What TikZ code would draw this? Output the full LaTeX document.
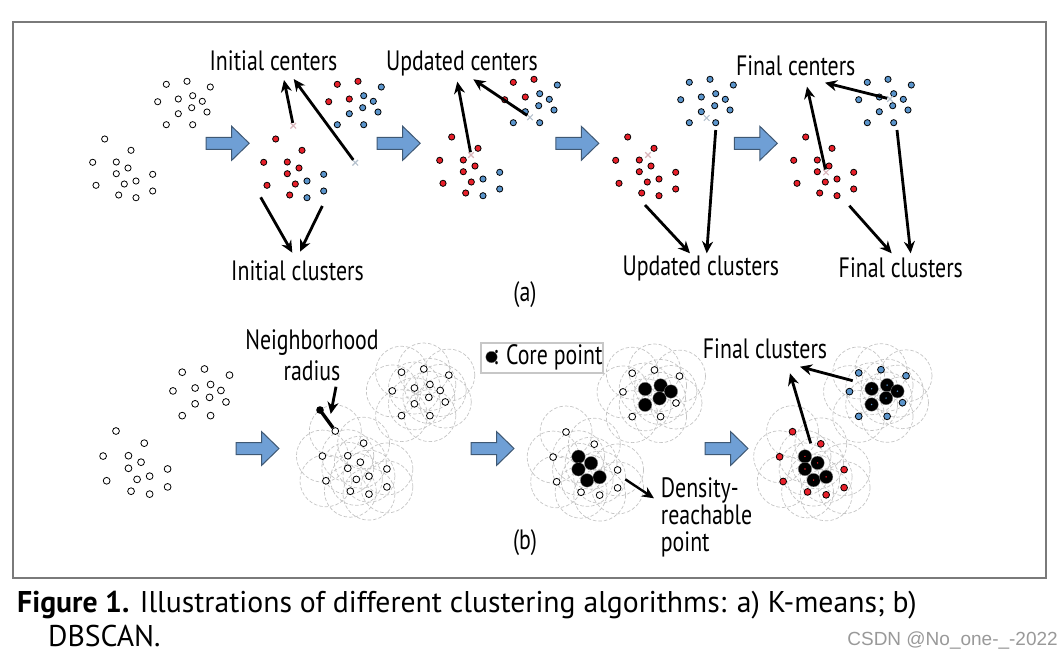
\documentclass[tikz,border=0pt]{standalone}
\usepackage{fontspec}
\setmainfont{PT Sans}
\newfontfamily\lblfont[FakeStretch=0.78]{PT Sans}
\newfontfamily\capfont[FakeStretch=0.99]{PT Sans}
\newfontfamily\wmfont{Liberation Sans}
\usetikzlibrary{arrows.meta,positioning,shapes.misc}

\definecolor{ptred}{HTML}{E8202A}
\definecolor{ptblue}{HTML}{5B95CC}
\definecolor{blockfill}{HTML}{6F9FD5}
\definecolor{blockline}{HTML}{3F5873}
\definecolor{framegray}{HTML}{7A7A7A}
\definecolor{circgray}{HTML}{C4C4C4}
\definecolor{ctrred}{HTML}{D8B4BA}
\definecolor{ctrblue}{HTML}{B4C0CC}

% one data set, measured from the first lower point
\def\upA{61.6/-54.7,82.3/-57.7,53/-37.3,73.6/-40}
\def\upB{105.6/-52,88/-43.3,97.6/-37.7,87/-31.3,102.3/-27,73.6/-25.3,61.6/-14.3,88/-14.3}
\def\loA{0/0,26.3/11.3,-12/23.3,11.6/23,23.3/29,11.6/34.7,-8.7/46.3,19.6/45,14/56}
\def\loB{48/35.3,31.3/42,48/52,31.3/58.7}
\def\upCore{73.6/-40,88/-43.3,97.6/-37.7,87/-31.3,73.6/-25.3}
\def\upRim{61.6/-54.7,82.3/-57.7,105.6/-52,53/-37.3,102.3/-27,61.6/-14.3,88/-14.3}
\def\loCore{11.6/23,23.3/29,11.6/34.7,19.6/45,31.3/42}
\def\loRim{0/0,26.3/11.3,-12/23.3,48/35.3,-8.7/46.3,48/52,14/56,31.3/58.7}
\def\allPts{61.6/-54.7,82.3/-57.7,105.6/-52,53/-37.3,73.6/-40,88/-43.3,97.6/-37.7,87/-31.3,102.3/-27,73.6/-25.3,61.6/-14.3,88/-14.3,0/0,26.3/11.3,-12/23.3,11.6/23,23.3/29,11.6/34.7,48/35.3,-8.7/46.3,19.6/45,31.3/42,48/52,14/56,31.3/58.7}

\tikzset{
  pt/.style={circle,draw=black,line width=0.8pt,inner sep=0pt,minimum size=6.2pt},
  openpt/.style={pt,fill=white},
  redpt/.style={pt,fill=ptred},
  bluept/.style={pt,fill=ptblue},
  core/.style={circle,fill=black,draw=white!55!black,line width=0.3pt,inner sep=0pt,minimum size=13.5pt},
  coredot/.style={circle,fill=#1,inner sep=0pt,minimum size=1.6pt},
  nbhd/.style={circle,draw=circgray,dash pattern=on 3.5pt off 2pt,line width=0.7pt,inner sep=0pt,minimum size=52pt},
  ctr/.style={cross out,draw=#1,line width=1.1pt,inner sep=0pt,minimum size=4.5pt},
  arr/.style={line width=2.8pt,-{Stealth[length=12pt,width=11pt]}},
  lbl/.style={font=\lblfont\fontsize{28}{27}\selectfont,inner sep=0pt,anchor=base},
  capt/.style={font=\capfont\fontsize{30}{34}\selectfont,inner sep=0pt,anchor=base west},
  blockarrow/.pic={\draw[fill=blockfill,draw=blockline,line width=1pt]
    (-21.5,-6) -- (4,-6) -- (4,-17) -- (21.5,0) -- (4,17) -- (4,6) -- (-21.5,6) -- cycle;}
}

\begin{document}
\begin{tikzpicture}[x=1pt,y=-1pt]
\useasboundingbox (0,0) rectangle (1064,657);
\draw[framegray,line width=1.6pt] (12.7,22) rectangle (1046,577.7);

% (a) k-means
\begin{scope}[shift={(104.7,139)}]
\foreach \x/\y [count=\i] in \upA {\node[openpt] (a1ua\i) at (\x,\y) {};}
\foreach \x/\y [count=\i] in \upB {\node[openpt] (a1ub\i) at (\x,\y) {};}
\foreach \x/\y [count=\i] in \loA {\node[openpt] (a1la\i) at (\x,\y) {};}
\foreach \x/\y [count=\i] in \loB {\node[openpt] (a1lb\i) at (\x,\y) {};}
\end{scope}
\foreach \s/\sx/\sy in {2/275.7/139,3/451.7/137}{
\begin{scope}[shift={(\sx,\sy)}]
\foreach \x/\y [count=\i] in \upA {\node[redpt] (a\s ua\i) at (\x,\y) {};}
\foreach \x/\y [count=\i] in \upB {\node[bluept] (a\s ub\i) at (\x,\y) {};}
\foreach \x/\y [count=\i] in \loA {\node[redpt] (a\s la\i) at (\x,\y) {};}
\foreach \x/\y [count=\i] in \loB {\node[bluept] (a\s lb\i) at (\x,\y) {};}
\end{scope}}
\foreach \s/\sx/\sy in {4/627.7/137,5/805.7/137}{
\begin{scope}[shift={(\sx,\sy)}]
\foreach \x/\y [count=\i] in \upA {\node[bluept] (a\s ua\i) at (\x,\y) {};}
\foreach \x/\y [count=\i] in \upB {\node[bluept] (a\s ub\i) at (\x,\y) {};}
\foreach \x/\y [count=\i] in \loA {\node[redpt] (a\s la\i) at (\x,\y) {};}
\foreach \x/\y [count=\i] in \loB {\node[redpt] (a\s lb\i) at (\x,\y) {};}
\end{scope}}

\node[ctr=ctrred] (c2r) at (293.3,125.7) {};
\node[ctr=ctrblue] (c2b) at (355.3,162.7) {};
\node[ctr=ctrred] (c3r) at (471,155) {};
\node[ctr=ctrblue] (c3b) at (530,117.3) {};
\node[ctr=ctrred] (c4r) at (648,155) {};
\node[ctr=ctrblue] (c4b) at (706.7,118) {};
\node[ctr=ctrred] (c5r) at (826,172.3) {};
\node[ctr=ctrblue] (c5b) at (890,99) {};

\foreach \ax in {227.7,398.7,577.3,755.8} \pic at (\ax,143.3) {blockarrow};

\node[lbl] (inicen) at (273.5,70) {Initial centers};
\node[lbl] (inicl) at (297.5,280.5) {Initial clusters};
\node[lbl] (updcen) at (462,70.5) {Updated centers};
\node[lbl] (updcl) at (700.8,275.5) {Updated clusters};
\node[lbl] (fincen) at (795.7,75.5) {Final centers};
\node[lbl] (fincl) at (900.8,277.5) {Final clusters};
\node[lbl] (taga) at (525,301) {(a)};

\coordinate (ic1) at (284,80);
\coordinate (ic2) at (293.7,79);
\coordinate (il0) at (260.7,197.3);
\coordinate (il1) at (292.3,252.7);
\coordinate (il2) at (322.3,206);
\coordinate (il3) at (300,251.7);
\coordinate (uc1) at (457.3,81.7);
\coordinate (uc2) at (473.3,79.3);
\coordinate (ul0) at (645,205);
\coordinate (ul1) at (690,253.3);
\coordinate (ul2) at (715.7,130);
\coordinate (ul3) at (706.7,253.3);
\coordinate (fc1) at (807,86.7);
\coordinate (fc2) at (825,82.7);
\coordinate (fl0) at (849.3,205.7);
\coordinate (fl1) at (891.7,253.3);
\coordinate (fl2) at (897,130);
\coordinate (fl3) at (910.7,253.3);

\draw[arr] (c2r) -- (ic1);
\draw[arr] (c2b) -- (ic2);
\draw[arr] (il0) -- (il1);
\draw[arr] (il2) -- (il3);
\draw[arr] (c3r) -- (uc1);
\draw[arr] (c3b) -- (uc2);
\draw[arr] (ul0) -- (ul1);
\draw[arr] (ul2) -- (ul3);
\draw[arr] (c5r) -- (fc1);
\draw[arr] (c5b) -- (fc2);
\draw[arr] (fl0) -- (fl1);
\draw[arr] (fl2) -- (fl3);

% (b) dbscan
\begin{scope}[shift={(116,431)},scale=1.075]
\foreach \x/\y [count=\i] in \allPts {\node[openpt,minimum size=6.8pt] (b1p\i) at (\x,\y) {};}
\end{scope}
\begin{scope}[shift={(335.3,431)},scale=1.075]
\foreach \x/\y [count=\i] in \allPts {\node[nbhd] (b2n\i) at (\x,\y) {};}
\foreach \x/\y [count=\i] in \allPts {\node[openpt,minimum size=6.8pt] (b2p\i) at (\x,\y) {};}
\end{scope}
\begin{scope}[shift={(566,432)},scale=1.075]
\foreach \x/\y [count=\i] in \allPts {\node[nbhd] (b3n\i) at (\x,\y) {};}
\foreach \x/\y [count=\i] in \upRim {\node[openpt,minimum size=6.8pt] (b3ur\i) at (\x,\y) {};}
\foreach \x/\y [count=\i] in \loRim {\node[openpt,minimum size=6.8pt] (b3lr\i) at (\x,\y) {};}
\foreach \x/\y [count=\i] in \upCore {\node[core] (b3uc\i) at (\x,\y) {};}
\foreach \x/\y [count=\i] in \loCore {\node[core] (b3lc\i) at (\x,\y) {};}
\end{scope}
\begin{scope}[shift={(792.5,431.7)},scale=1.075]
\foreach \x/\y [count=\i] in \allPts {\node[nbhd] (b4n\i) at (\x,\y) {};}
\foreach \x/\y [count=\i] in \upRim {\node[bluept,minimum size=6.8pt] (b4ur\i) at (\x,\y) {};}
\foreach \x/\y [count=\i] in \loRim {\node[redpt,minimum size=6.8pt] (b4lr\i) at (\x,\y) {};}
\foreach \x/\y [count=\i] in \upCore {\node[core] (b4uc\i) at (\x,\y) {};
  \node[coredot=ptblue] at (b4uc\i) {};}
\foreach \x/\y [count=\i] in \loCore {\node[core] (b4lc\i) at (\x,\y) {};
  \node[coredot=ptred] at (b4lc\i) {};}
\end{scope}

\foreach \ax in {257.5,492.5,726.5} \pic at (\ax,448.5) {blockarrow};

\node[draw=white!78!black,line width=1.8pt,minimum width=122pt,minimum height=30pt,inner sep=0pt] (key) at (541.7,357.7) {};
\node[core,minimum size=11.5pt] (keydot) at (491.5,357) {};
\node[lbl] (keytxt) at (548,364.5) {: Core point};

\node[lbl,align=center,anchor=north,font=\lblfont\fontsize{28}{31}\selectfont] (nbr) at (312,329) {Neighborhood\\radius};
\node[lbl,align=left,anchor=north west] (dens) at (660.7,477.5) {Density-\\reachable\\point};
\node[lbl] (fincl2) at (765,358) {Final clusters};
\node[lbl] (tagb) at (525,549) {(b)};

\coordinate (rb) at (320,410);
\draw[line width=3.4pt] (rb) -- (b2p13);
\fill (rb) circle (3.8);
\coordinate (nb0) at (336,386.7);
\coordinate (nb1) at (330.7,414);
\coordinate (dr0) at (625.3,479.3);
\coordinate (dr1) at (654,498.3);
\coordinate (bf0) at (810.7,443.3);
\coordinate (bf1) at (790,373.3);
\coordinate (bf2) at (852.7,380.7);
\coordinate (bf3) at (800,366.7);
\draw[arr] (nb0) -- (nb1);
\draw[arr,line width=2.4pt] (dr0) -- (dr1);
\draw[arr] (bf0) -- (bf1);
\draw[arr] (bf2) -- (bf3);

% caption
\node[capt] (cap1) at (17,612) {\textbf{Figure 1.} Illustrations of different clustering algorithms: a) K-means; b)};
\node[capt] (cap2) at (48,646) {DBSCAN.};
\node[font=\wmfont\fontsize{19}{20}\selectfont,text=black!40,inner sep=0pt,anchor=base east] (wm) at (1058,645) {CSDN @No\_one-\_-2022};
\end{tikzpicture}
\end{document}
